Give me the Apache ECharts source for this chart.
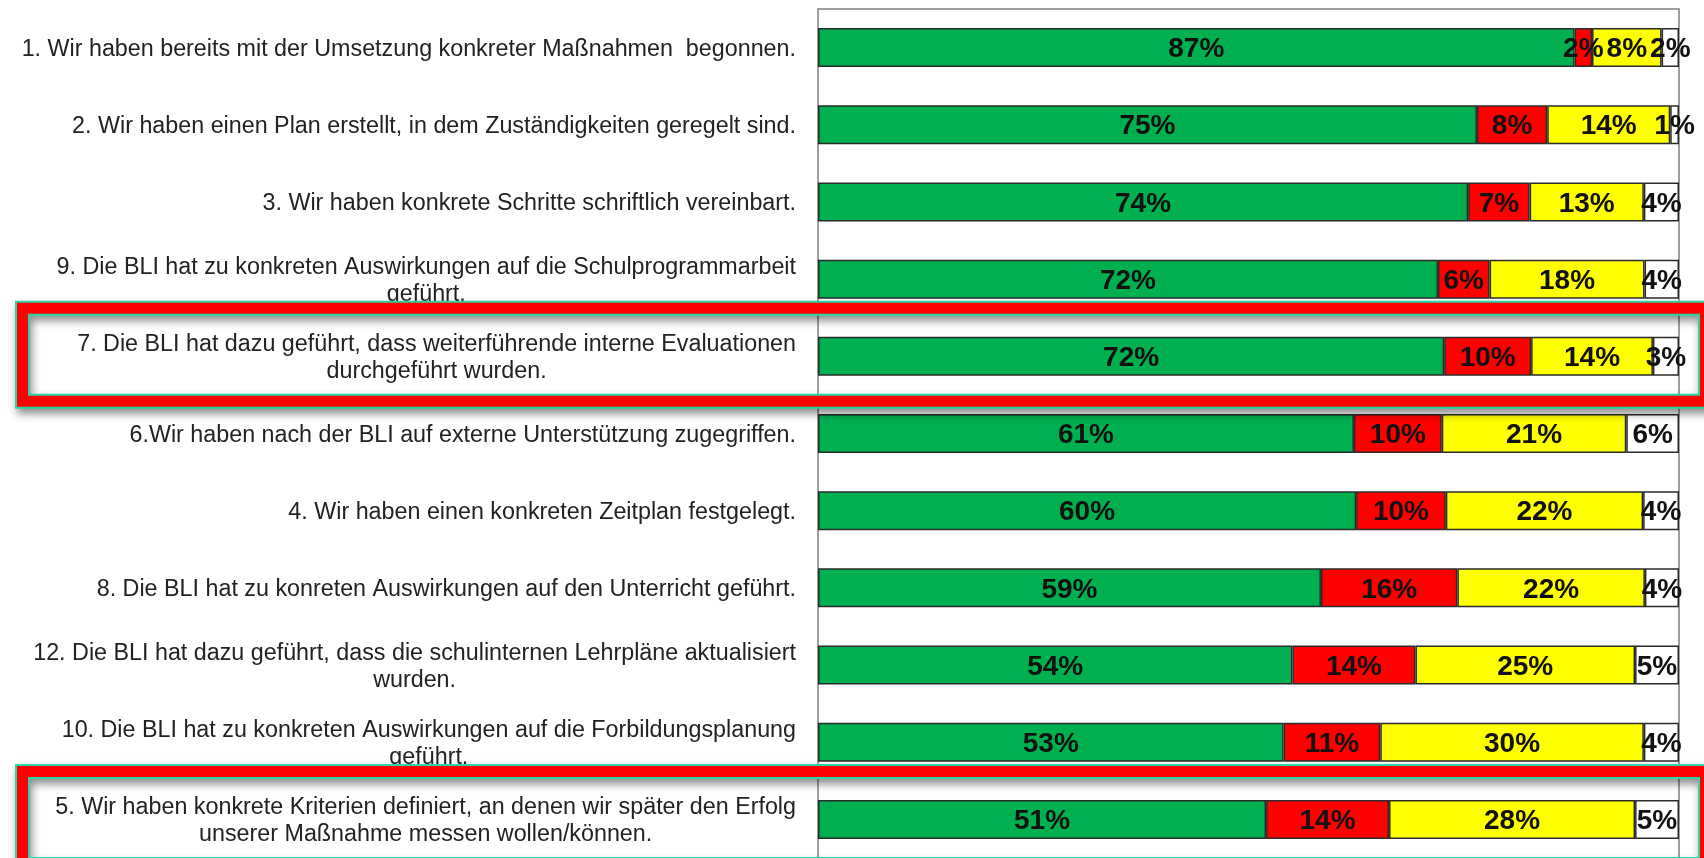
<!DOCTYPE html>
<html>
<head>
<meta charset="utf-8">
<title>BLI Umsetzung</title>
<script src="https://cdn.jsdelivr.net/npm/echarts@6/dist/echarts.min.js"></script>
<style>
  html, body { margin: 0; padding: 0; background: #fff; }
  #main { width: 1704px; height: 858px; }
</style>
</head>
<body>
<div id="main"></div>
<script>
// Aussagen (von oben nach unten)
var categories = [
    '1. Wir haben bereits mit der Umsetzung konkreter Maßnahmen  begonnen.',
    '2. Wir haben einen Plan erstellt, in dem Zuständigkeiten geregelt sind.',
    '3. Wir haben konkrete Schritte schriftlich vereinbart.',
    '9. Die BLI hat zu konkreten Auswirkungen auf die Schulprogrammarbeit\ngeführt.',
    '7. Die BLI hat dazu geführt, dass weiterführende interne Evaluationen\ndurchgeführt wurden.',
    '6.Wir haben nach der BLI auf externe Unterstützung zugegriffen.',
    '4. Wir haben einen konkreten Zeitplan festgelegt.',
    '8. Die BLI hat zu konreten Auswirkungen auf den Unterricht geführt.',
    '12. Die BLI hat dazu geführt, dass die schulinternen Lehrpläne aktualisiert\nwurden.',
    '10. Die BLI hat zu konkreten Auswirkungen auf die Forbildungsplanung\ngeführt.',
    '5. Wir haben konkrete Kriterien definiert, an denen wir später den Erfolg\nunserer Maßnahme messen wollen/können.'
];

// Prozentwerte wie beschriftet
var gruen = [87, 75, 74, 72, 72, 61, 60, 59, 54, 53, 51];
var rot = [2, 8, 7, 6, 10, 10, 10, 16, 14, 11, 14];
var gelb = [8, 14, 13, 18, 14, 21, 22, 22, 25, 30, 28];
var weiss = [2, 1, 4, 4, 3, 6, 4, 4, 5, 4, 5];

// markierte Aussagen (rote Rahmen)
var markiert = [4, 10];

var myChart = echarts.init(document.getElementById('main'));

// 100%-Balken: jede Zeile auf ihre Summe normieren
function anteil(arr) {
    return arr.map(function (v, i) {
        var summe = gruen[i] + rot[i] + gelb[i] + weiss[i];
        return v / summe * 100;
    });
}

function serie(name, arr, farbe) {
    return {
        name: name,
        type: 'bar',
        stack: 'gesamt',
        barWidth: 39,
        data: anteil(arr),
        itemStyle: {
            color: farbe,
            borderColor: '#2b2b2b',
            borderWidth: 1.5
        },
        label: {
            show: true,
            position: 'inside',
            offset: [0, 2],
            color: '#111',
            fontFamily: 'Liberation Sans, Arial, sans-serif',
            fontWeight: 'bold',
            fontSize: 28,
            formatter: function (p) {
                return arr[p.dataIndex] + '%';
            }
        }
    };
}

var option = {
    animation: false,
    backgroundColor: '#fff',
    grid: {
        show: true,
        left: 818,
        top: 9,
        width: 861,
        height: 855,
        borderColor: '#7f7f7f',
        borderWidth: 1.5,
        backgroundColor: '#fff'
    },
    xAxis: {
        type: 'value',
        min: 0,
        max: 100,
        show: false,
        splitLine: { show: false }
    },
    yAxis: {
        type: 'category',
        inverse: true,
        data: categories,
        axisLine: { show: false },
        axisTick: { show: false },
        axisLabel: {
            margin: 22,
            padding: [4, 0, 0, 0],
            formatter: function (v) {
                return '{t|' + v + '}';
            },
            rich: {
                t: {
                    align: 'center',
                    fontSize: 23.3,
                    lineHeight: 27,
                    color: '#222',
                    fontFamily: 'Liberation Sans, Arial, sans-serif'
                }
            }
        }
    },
    series: [
        serie('trifft zu', gruen, '#00B050'),
        serie('trifft nicht zu', rot, '#FF0000'),
        serie('teilweise', gelb, '#FFFF00'),
        serie('keine Angabe', weiss, '#FFFFFF')
    ]
};
myChart.setOption(option);

// rote Rahmen um die markierten Zeilen legen
var rahmen = [];
markiert.forEach(function (idx) {
    var cy = myChart.convertToPixel({ yAxisIndex: 0 }, categories[idx]);
    var form = { x: 22.5, y: cy - 48, width: 1683, height: 93 };
    rahmen.push({
        type: 'rect',
        z: 100,
        shape: form,
        style: {
            fill: null,
            stroke: '#2ad6a6',
            lineWidth: 15,
            shadowBlur: 8,
            shadowOffsetX: 2,
            shadowOffsetY: 5,
            shadowColor: 'rgba(0,0,0,0.45)'
        }
    });
    rahmen.push({
        type: 'rect',
        z: 101,
        shape: form,
        style: {
            fill: null,
            stroke: '#FF0000',
            lineWidth: 11
        }
    });
});
myChart.setOption({ graphic: rahmen });
</script>
</body>
</html>
